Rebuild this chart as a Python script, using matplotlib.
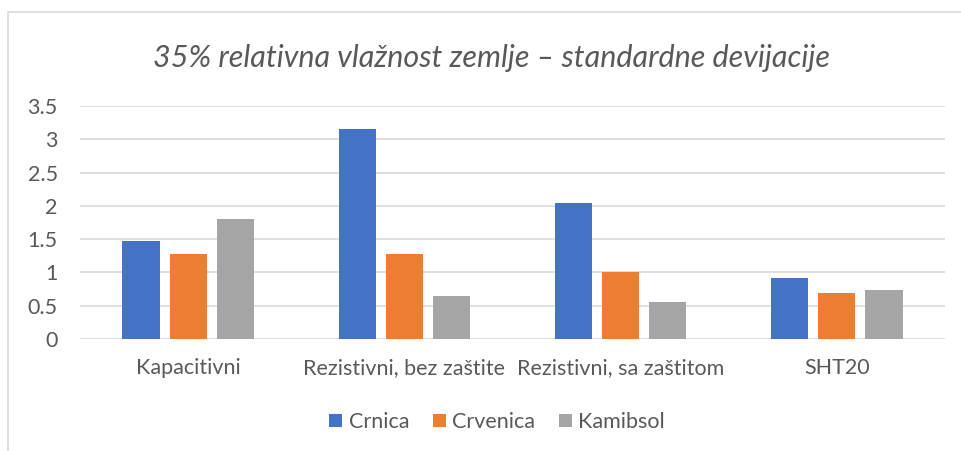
import matplotlib.pyplot as plt
import numpy as np
from matplotlib.patches import Rectangle

categories = ['Kapacitivni', 'Rezistivni, bez zaštite', 'Rezistivni, sa zaštitom', 'SHT20']
crnica = [1.47, 3.16, 2.05, 0.92]
crvenica = [1.27, 1.27, 1.00, 0.69]
kamibsol = [1.80, 0.65, 0.56, 0.74]
series_names = ['Crnica', 'Crvenica', 'Kamibsol']
colors = ['#4472C4', '#ED7D31', '#A5A5A5']
yticks = [0, 0.5, 1, 1.5, 2, 2.5, 3, 3.5]
ytick_labels = ['0', '0.5', '1', '1.5', '2', '2.5', '3', '3.5']

plt.rcParams['font.family'] = ['Lato', 'DejaVu Sans']
text_color = '#595959'

fig = plt.figure(figsize=(9.62, 4.51), dpi=100)
# chart frame (extends past right/bottom edge like the screenshot)
fig.patches.append(Rectangle((8 / 962, -0.1), 1.2, 1 - 12 / 451 + 0.1,
                             transform=fig.transFigure, fill=False,
                             edgecolor='#d9d9d9', linewidth=1.2))

ax = fig.add_axes([80 / 962, 1 - 339 / 451, 865 / 962, 233 / 451])

x = np.arange(len(categories))
w = 0.172
step = 0.218
for i, (vals, name) in enumerate(zip([crnica, crvenica, kamibsol], series_names)):
    ax.bar(x + (i - 1) * step, vals, width=w, color=colors[i], label=name, zorder=3)

ax.set_xlim(-0.5, len(categories) - 0.5)
ax.set_ylim(0, 3.5)
ax.set_yticks(yticks)
ax.set_yticklabels(ytick_labels)
ax.set_xticks(x)
ax.set_xticklabels(categories)
ax.tick_params(axis='both', length=0, labelsize=15.5, colors=text_color)
ax.tick_params(axis='y', pad=16)
ax.tick_params(axis='x', pad=14)
for lbl in ax.get_yticklabels():
    lbl.set_horizontalalignment('right')
ax.grid(axis='y', color='#d9d9d9', linewidth=1.2, zorder=0)
for s in ax.spines.values():
    s.set_visible(False)

fig.text(492 / 962, 1 - 58 / 451, '35% relativna vlažnost zemlje – standardne devijacije',
         ha='center', va='center', fontsize=22, style='italic', color=text_color)

fig.legend(loc='center', bbox_to_anchor=(497 / 962, 1 - 422 / 451), ncol=3, frameon=False,
           fontsize=15.5, labelcolor=text_color, handlelength=0.6, handleheight=0.6,
           handletextpad=0.3, columnspacing=1.1)

fig.savefig('out.png', dpi=100)
